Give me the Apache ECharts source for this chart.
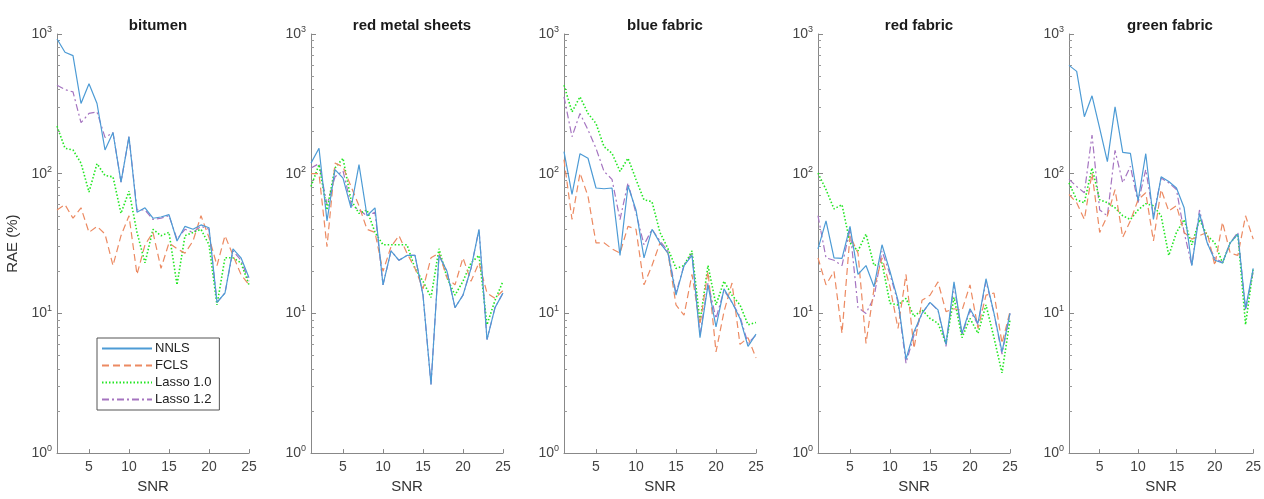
<!DOCTYPE html>
<html>
<head>
<meta charset="utf-8">
<script src="https://cdn.jsdelivr.net/npm/echarts@6/dist/echarts.min.js"></script>
<style>
  html, body { margin: 0; padding: 0; background: #fff; }
  #chart { width: 1264px; height: 499px; }
</style>
</head>
<body>
<div id="chart"></div>
<script>
// x values (SNR)
const snr = [1, 2, 3, 4, 5, 6, 7, 8, 9, 10, 11, 12, 13, 14, 15, 16, 17, 18, 19, 20, 21, 22, 23, 24, 25];
const xTicks = [5, 10, 15, 20, 25];
const yMinorTicks = [2, 3, 4, 5, 6, 7, 8, 9, 20, 30, 40, 50, 60, 70, 80, 90, 200, 300, 400, 500, 600, 700, 800, 900];
const materials = ["bitumen", "red metal sheets", "blue fabric", "red fabric", "green fabric"];
const methods = ["NNLS", "FCLS", "Lasso 1.0", "Lasso 1.2"];

// bitumen
const bitumenNNLS = [920, 740, 700, 318, 440, 318, 148, 197, 87, 184, 53, 57, 48, 49, 51, 33, 42, 40, 43, 41, 12, 14, 29, 25, 18];
const bitumenFCLS = [55, 60, 48, 57, 38, 42, 37, 22, 36, 50, 19, 31, 38, 21, 32, 29, 27, 33, 50, 35, 22, 36, 26, 19, 16];
const bitumenL10 = [219, 152, 148, 119, 74, 118, 97, 95, 52, 75, 38, 23, 40, 36, 38, 16, 36, 38, 40, 31, 11.5, 25, 25, 23, 16];
const bitumenL12 = [430, 400, 385, 232, 270, 277, 182, 197, 87, 184, 55, 55, 47, 48, 50, 34, 40, 38, 42, 40, 12, 14, 28, 24, 17];

// red metal sheets
const metalNNLS = [119, 152, 46, 107, 93, 57, 116, 50, 57, 16, 28, 24, 26, 26, 13.5, 3.1, 26, 20, 11, 13.5, 21, 40, 6.5, 11, 14];
const metalFCLS = [100, 100, 30, 119, 112, 81, 59, 40, 38, 20, 30, 36, 27, 21, 15, 25, 27, 18, 16, 25, 17, 23, 14, 12.8, 14.6];
const metalL10 = [81, 116, 55, 110, 129, 65, 52, 55, 38, 31, 31, 31, 31, 21, 17, 13, 29, 18, 13.5, 17, 23, 26, 8.3, 12.4, 17];
const metalL12 = [110, 118, 60, 95, 105, 60, 55, 50, 53, 16, 28, 24, 26, 26, 13.5, 3.1, 26, 20, 11, 13.5, 21, 40, 6.5, 11, 14];

// blue fabric
const blueNNLS = [144, 71, 139, 129, 79, 78, 79, 26, 82, 55, 25, 40, 32, 27, 13.5, 22, 26, 6.7, 16, 8, 15, 12, 9.2, 5.8, 7.1];
const blueFCLS = [126, 47, 101, 69, 32, 32, 29, 27, 42, 40, 16, 22, 32, 27, 11.5, 9.7, 19, 8.3, 20, 5.3, 10.3, 16.5, 6, 6.7, 4.8];
const blueL10 = [430, 277, 355, 270, 229, 156, 140, 104, 129, 91, 65, 63, 38, 29, 21, 22, 28, 8.7, 22, 11.5, 17, 13.5, 11.5, 8.3, 8.6];
const blueL12 = [355, 184, 270, 206, 152, 104, 91, 47, 86, 52, 31, 40, 33, 28, 14, 22, 27, 7, 16.5, 9.2, 14.6, 12, 9.5, 6.1, 7];

// red fabric
const redNNLS = [29, 46, 25, 24.8, 42, 19, 22, 15.5, 31, 20, 12.4, 4.7, 7.4, 10, 12, 10.6, 6, 16.8, 7.2, 10.8, 8.5, 17.7, 10, 5.3, 10];
const redFCLS = [25, 16, 20, 7.2, 36, 27, 6.1, 15, 25, 15.5, 7.8, 19, 5.6, 12.4, 13.5, 16.8, 10.3, 10.8, 10.5, 16, 7.8, 13.5, 14, 6.1, 10.3];
const redL10 = [101, 77, 56, 60, 32, 28, 37, 22, 23, 11.8, 11.5, 12.8, 9.5, 10.6, 9.2, 8.5, 6.1, 13, 6.7, 9.2, 7.2, 11.5, 6.7, 3.75, 9];
const redL12 = [50, 25, 24, 22, 40, 11, 10, 13, 28, 19, 12, 4.4, 7, 10, 12, 10.5, 5.8, 16, 7, 10.5, 8.3, 17, 10, 5.1, 10];

// green fabric
const greenNNLS = [596, 540, 256, 361, 211, 122, 301, 142, 140, 64, 139, 47, 95, 88, 79, 57, 22, 52, 32, 24, 23, 32, 37, 10.8, 21];
const greenFCLS = [71, 62, 47, 101, 38, 50, 77, 35, 46, 65, 73, 33, 77, 54, 59, 38, 34, 36, 38, 22, 45, 27, 26, 50, 34];
const greenL10 = [86, 65, 62, 110, 65, 62, 57, 50, 47, 55, 61, 59, 50, 26, 38, 47, 31, 47, 36, 32, 23, 32, 37, 8.3, 21];
const greenL12 = [91, 81, 73, 189, 55, 50, 147, 86, 113, 62, 107, 50, 93, 86, 77, 38, 22, 55, 32, 25, 23, 32, 38, 10.5, 20];

const panels = [
  [bitumenNNLS, bitumenFCLS, bitumenL10, bitumenL12],
  [metalNNLS, metalFCLS, metalL10, metalL12],
  [blueNNLS, blueFCLS, blueL10, blueL12],
  [redNNLS, redFCLS, redL10, redL12],
  [greenNNLS, greenFCLS, greenL10, greenL12],
];

const colors = ["#4d9bd5", "#ec8a62", "#22e622", "#a574c0"];
const lineTypes = ["solid", [7, 4], [1.5, 2], [7, 3, 2, 3]];
const font = "Liberation Sans, Arial, Helvetica, sans-serif";

const lefts = [57, 311, 564, 818, 1069];
const plotW = 192;
const plotTop = 34;
const plotH = 422;

var chart = echarts.init(document.getElementById("chart"));
var grid = [], xAxis = [], yAxis = [], minorAxes = [], series = [], title = [];

lefts.forEach(function (left, p) {
  grid.push({ left: left, top: plotTop, width: plotW, height: plotH, containLabel: false });
  title.push({
    text: materials[p],
    left: left + plotW / 2,
    top: 13,
    textAlign: "center",
    textStyle: { fontFamily: font, fontSize: 15, fontWeight: "bold", color: "#1a1a1a" },
  });
  xAxis.push({
    gridIndex: p,
    type: "value",
    min: 1,
    max: 25,
    name: "SNR",
    nameLocation: "middle",
    nameGap: 24,
    nameTextStyle: { fontFamily: font, fontSize: 15, color: "#333" },
    axisLine: { lineStyle: { color: "#888", width: 1 } },
    axisTick: { inside: true, length: 4, customValues: xTicks, lineStyle: { color: "#888" } },
    axisLabel: { customValues: xTicks, fontFamily: font, fontSize: 14, color: "#444", margin: 7 },
    splitLine: { show: false },
  });
  yAxis.push({
    gridIndex: p,
    type: "log",
    logBase: 10,
    min: 1,
    max: 1000,
    name: p === 0 ? "RAE (%)" : "",
    nameLocation: "middle",
    nameGap: 37,
    nameTextStyle: { fontFamily: font, fontSize: 15, color: "#333" },
    axisLine: { show: true, lineStyle: { color: "#888", width: 1 } },
    axisTick: { inside: true, length: 5, lineStyle: { color: "#888" } },
    splitLine: { show: false },
    axisLabel: {
      color: "#444",
      margin: 5,
      formatter: function (v) {
        var e = Math.round(Math.log10(v));
        return "{b|10}{s|" + e + "}";
      },
      rich: {
        b: { fontFamily: font, fontSize: 14, color: "#444" },
        s: { fontFamily: font, fontSize: 9, color: "#444", verticalAlign: "top", padding: [0, 0, 9, 0] },
      },
    },
  });
  // second log axis on the same grid, only for the 2..9 minor ticks
  minorAxes.push({
    gridIndex: p,
    type: "log",
    logBase: 10,
    min: 1,
    max: 1000,
    position: "left",
    axisLine: { show: false },
    axisLabel: { show: false },
    splitLine: { show: false },
    axisTick: { show: true, inside: true, length: 3, customValues: yMinorTicks, lineStyle: { color: "#999" } },
  });
  panels[p].forEach(function (vals, m) {
    series.push({
      name: methods[m],
      type: "line",
      xAxisIndex: p,
      yAxisIndex: p,
      symbol: "none",
      silent: true,
      data: snr.map(function (x, i) { return [x, vals[i]]; }),
      lineStyle: { color: colors[m], width: m === 2 ? 1.6 : 1.2, type: lineTypes[m] },
      itemStyle: { color: colors[m] },
      z: 4 - m,
    });
  });
});

var option = {
  animation: false,
  title: title,
  grid: grid,
  xAxis: xAxis,
  yAxis: yAxis.concat(minorAxes),
  legend: {
    data: methods,
    orient: "vertical",
    left: 97,
    top: 338,
    width: 121,
    padding: [4, 8, 4, 4],
    itemGap: 4,
    itemWidth: 50,
    itemHeight: 14,
    backgroundColor: "#fff",
    borderColor: "#555",
    borderWidth: 1,
    itemStyle: { opacity: 0 },
    textStyle: { fontFamily: font, fontSize: 13, color: "#222", padding: [0, 0, 0, -2] },
  },
  series: series,
};
chart.setOption(option, true);
</script>
</body>
</html>
